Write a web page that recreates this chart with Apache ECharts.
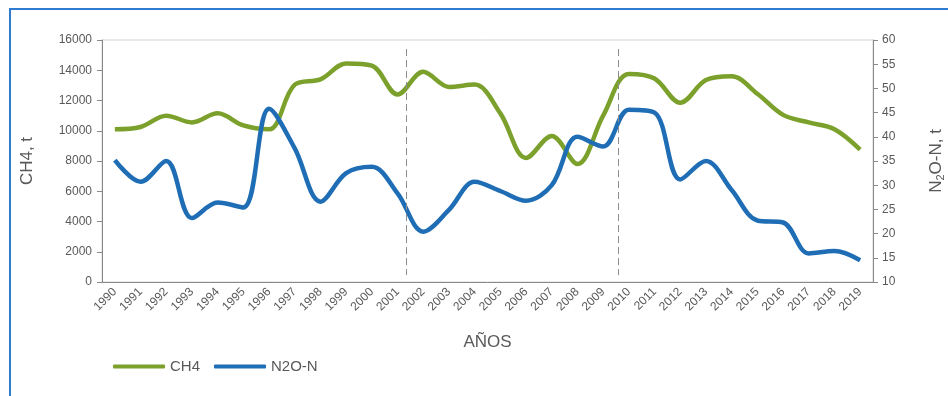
<!DOCTYPE html>
<html>
<head>
<meta charset="utf-8">
<script src="https://cdn.jsdelivr.net/npm/echarts@6/dist/echarts.min.js"></script>
<style>
  html, body { margin: 0; padding: 0; background: #fff; }
  #chart { width: 948px; height: 396px; }
</style>
</head>
<body>
<div id="chart"></div>
<script>
// Annual emissions, 1990–2019
const years = ['1990','1991','1992','1993','1994','1995','1996','1997','1998','1999',
  '2000','2001','2002','2003','2004','2005','2006','2007','2008','2009',
  '2010','2011','2012','2013','2014','2015','2016','2017','2018','2019'];

// CH4, t (left axis)
const ch4 = [10100, 10250, 11000, 10550, 11150, 10350, 10100, 13050, 13400, 14450,
  14300, 12400, 13900, 12900, 13050, 11150, 8200, 9650, 7800, 11000,
  13750, 13450, 11850, 13350, 13600, 12450, 11050, 10550, 10100, 8750];

// N2O-N, t (right axis)
const n2o = [35.2, 30.7, 35.0, 23.2, 26.4, 25.4, 45.8, 37.6, 26.6, 32.5,
  33.8, 28.3, 20.4, 24.9, 30.7, 28.8, 26.8, 30.0, 40.0, 38.0,
  45.6, 45.0, 31.2, 35.0, 29.0, 22.7, 22.3, 15.9, 16.4, 14.5];

// Reference markers (position along the year axis, in category units)
const markerPositions = [11.33, 19.59];

// Axis ranges
const ch4Range = { min: 0, max: 16000, step: 2000 };
const n2oRange = { min: 10, max: 60, step: 5 };

const grey = '#595959';
const axisGrey = '#898989';
const font = 'Liberation Sans, Arial, sans-serif';

const chart = echarts.init(document.getElementById('chart'), null, { renderer: 'canvas' });

chart.setOption({
  backgroundColor: '#fff',
  animation: false,
  textStyle: { fontFamily: font },
  graphic: [{
    type: 'rect',
    shape: { x: 10, y: 9, width: 1000, height: 500 },
    style: { fill: 'none', stroke: '#2e7bcf', lineWidth: 2 },
    silent: true, z: -1
  }],
  grid: {
    left: 102, right: 75, top: 40, bottom: 114,
    containLabel: false,
    outerBoundsMode: 'none',
    show: true, borderColor: '#d4d4d4', borderWidth: 1
  },
  legend: {
    left: 108, top: 354,
    icon: 'roundRect',
    itemWidth: 52, itemHeight: 4, itemGap: 14,
    textStyle: { color: grey, fontSize: 15, fontFamily: font },
    data: ['CH4', 'N2O-N']
  },
  xAxis: [{
    type: 'category',
    data: years,
    boundaryGap: true,
    name: 'AÑOS',
    nameLocation: 'middle',
    nameGap: 52,
    nameTextStyle: { color: grey, fontSize: 17, fontFamily: font },
    axisLine: { onZero: false, lineStyle: { color: axisGrey, width: 1 } },
    axisTick: { alignWithLabel: false, length: 4, lineStyle: { color: axisGrey } },
    axisLabel: { rotate: 45, color: grey, fontSize: 12, margin: 8, interval: 0, fontFamily: font },
    splitLine: { show: false }
  }, {
    type: 'value',
    min: -0.5, max: 29.5,
    show: false
  }],
  yAxis: [{
    type: 'value',
    min: ch4Range.min, max: ch4Range.max, interval: ch4Range.step,
    name: 'CH4, t',
    nameLocation: 'middle',
    nameGap: 66,
    nameTextStyle: { color: grey, fontSize: 17, fontFamily: font },
    axisLine: { show: true, onZero: false, lineStyle: { color: axisGrey } },
    axisTick: { show: true, length: 5, lineStyle: { color: axisGrey } },
    axisLabel: { color: grey, fontSize: 12, margin: 10, fontFamily: font, formatter: v => String(v) },
    splitLine: { show: false }
  }, {
    type: 'value',
    position: 'right',
    min: n2oRange.min, max: n2oRange.max, interval: n2oRange.step,
    name: '{a|N}{s|2}{a|O-N, t}',
    nameLocation: 'middle',
    nameGap: 54,
    nameRotate: 90,
    nameTextStyle: {
      color: grey, fontFamily: font,
      rich: {
        a: { fontSize: 17, color: grey, fontFamily: font },
        s: { fontSize: 11, color: grey, fontFamily: font, verticalAlign: 'bottom', padding: [8, 0, 0, 0] }
      }
    },
    axisLine: { show: true, onZero: false, lineStyle: { color: axisGrey } },
    axisTick: { show: true, length: 5, lineStyle: { color: axisGrey } },
    axisLabel: { color: grey, fontSize: 12, margin: 9, fontFamily: font, formatter: v => String(v) },
    splitLine: { show: false }
  }],
  series: [{
    name: 'CH4',
    type: 'line',
    data: ch4,
    yAxisIndex: 0,
    smooth: 0.35,
    symbol: 'none',
    lineStyle: { color: '#7ba12c', width: 4.5 },
    itemStyle: { color: '#7ba12c' },
    z: 3
  }, {
    name: 'N2O-N',
    type: 'line',
    data: n2o,
    yAxisIndex: 1,
    smooth: 0.35,
    symbol: 'none',
    lineStyle: { color: '#1f6eb5', width: 4.5 },
    itemStyle: { color: '#1f6eb5' },
    z: 4
  }, {
    name: 'markers',
    type: 'line',
    xAxisIndex: 1,
    yAxisIndex: 0,
    data: [],
    silent: true,
    markLine: {
      symbol: 'none',
      silent: true,
      label: { show: false },
      lineStyle: { color: '#8c8c8c', type: [7, 4], width: 1 },
      data: markerPositions.map(p => [{ coord: [p, 15400] }, { coord: [p, 460] }])
    },
    z: 2
  }]
});
</script>
</body>
</html>
